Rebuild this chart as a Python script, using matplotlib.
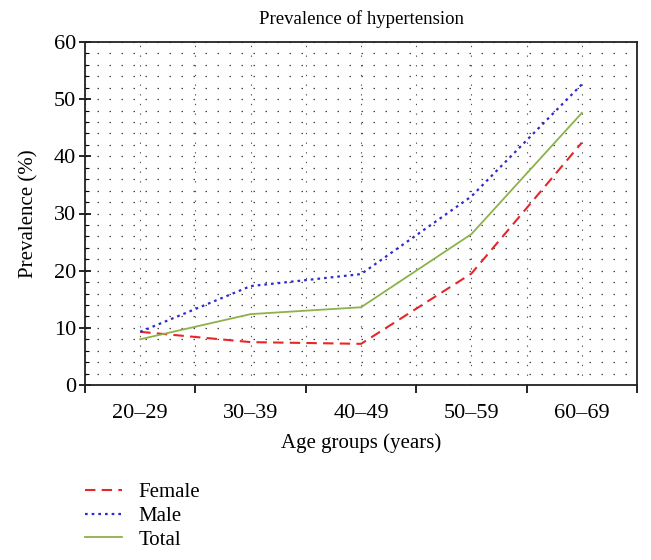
import matplotlib.pyplot as plt
import numpy as np
from matplotlib.ticker import MultipleLocator, FixedLocator

plt.rcParams['font.family'] = ['Liberation Serif', 'DejaVu Serif']

age_groups = ['20–29', '30–39', '40–49', '50–59', '60–69']
female = [9.3, 7.5, 7.2, 19.5, 42.4]
male = [9.3, 17.3, 19.4, 33.0, 52.6]
total = [8.0, 12.4, 13.6, 26.4, 47.6]

fig = plt.figure(figsize=(6.51, 5.6), dpi=100)
ax = fig.add_axes([0.1306, 0.3125, 0.848, 0.6125])

x = np.arange(len(age_groups))

ax.plot(x, female, color='#e8262a', linestyle=(0, (5, 3)), linewidth=1.5, label='Female')
ax.plot(x, male, color='#2b2bd0', linestyle=(0, (1.2, 1.8)), linewidth=1.6, label='Male')
ax.plot(x, total, color='#8db24a', linestyle='-', linewidth=1.3, label='Total')

ax.set_xlim(-0.5, len(age_groups) - 0.5)
ax.set_ylim(0, 60)

ax.xaxis.set_major_locator(FixedLocator(x))
ax.set_xticklabels(age_groups)
ax.xaxis.set_minor_locator(FixedLocator(np.arange(-0.5, len(age_groups), 1.0)))
ax.tick_params(axis='x', which='major', length=0, labelsize=16, pad=14)
ax.tick_params(axis='x', which='minor', direction='out', length=6, width=1.2)

ax.yaxis.set_major_locator(MultipleLocator(10))
ax.yaxis.set_minor_locator(MultipleLocator(2))
ax.tick_params(axis='y', which='major', direction='inout', length=9, width=1.2,
               labelsize=16, pad=2)
ax.tick_params(axis='y', which='minor', direction='in', length=3, width=0.8)

ax.grid(True, axis='y', which='both', color='#444444', linewidth=0.9,
        linestyle=(0, (1.2, 8.4)))
ax.grid(True, axis='x', which='both', color='#555555', linewidth=0.8,
        linestyle=(0, (1.2, 7.5)))
ax.set_axisbelow(True)

for s in ax.spines.values():
    s.set_linewidth(1.3)
    s.set_color('#222222')

ax.set_title('Prevalence of hypertension', fontsize=13.5, pad=13)
ax.set_xlabel('Age groups (years)', fontsize=15, labelpad=7)
ax.set_ylabel('Prevalence (%)', fontsize=15, labelpad=11)

fig.legend(loc='upper left', bbox_to_anchor=(0.118, 0.153), frameon=False,
           fontsize=15, handlelength=1.75, handletextpad=0.8, labelspacing=0.2,
           borderaxespad=0)

fig.savefig('out.png', dpi=100)
